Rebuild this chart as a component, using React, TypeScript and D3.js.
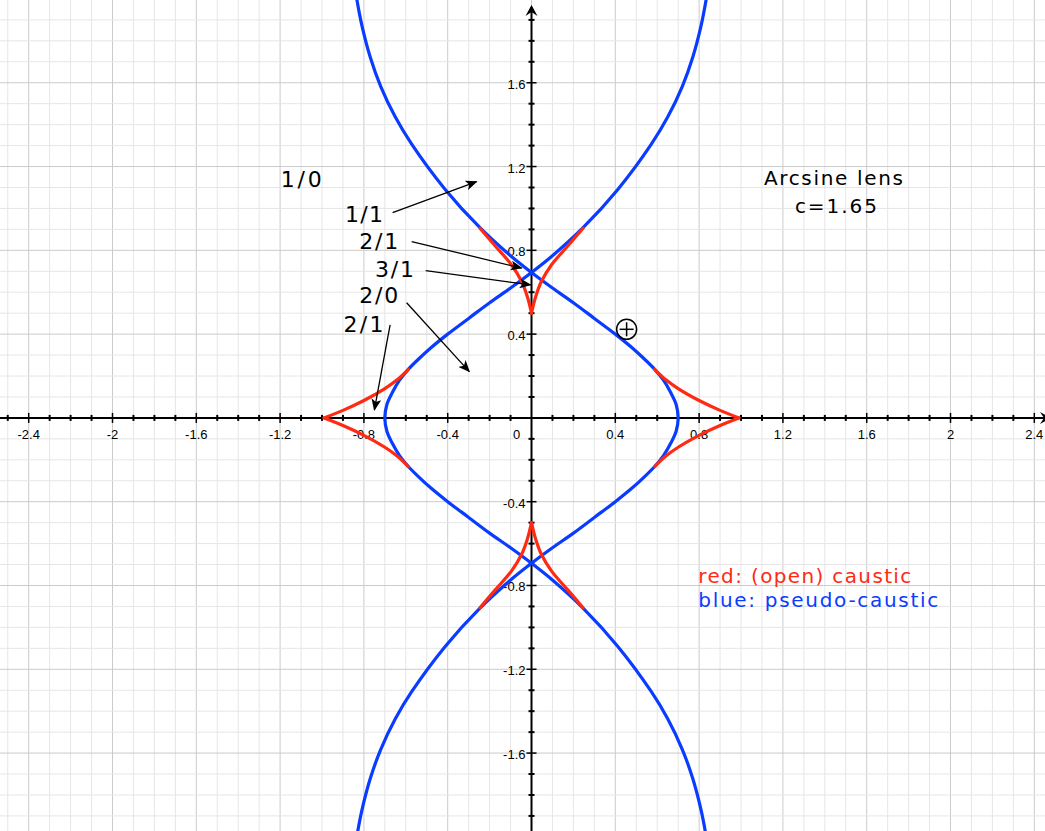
import * as d3 from "d3";
import { useEffect, useRef } from "react";

const W = 1045;
const H = 831;

// blue pseudo-caustic, the branch that bulges to the left (top-right -> bottom-right)
const blueLeft: [number, number][] = [
  [0.85, 2.1], [0.835, 2.005], [0.81, 1.875], [0.77, 1.723], [0.72, 1.583], [0.65, 1.436],
  [0.572, 1.307], [0.413, 1.092], [0.246, 0.908], [0.1, 0.774], [0, 0.694],
  [-0.1, 0.62], [-0.2, 0.55], [-0.3, 0.475], [-0.4, 0.4], [-0.48, 0.335],
  [-0.54, 0.28], [-0.588, 0.232], [-0.63, 0.18], [-0.665, 0.12], [-0.69, 0.065],
  [-0.7, 0], [-0.69, -0.065], [-0.665, -0.12], [-0.63, -0.18], [-0.588, -0.232],
  [-0.54, -0.28], [-0.48, -0.335], [-0.4, -0.4], [-0.3, -0.475], [-0.2, -0.55],
  [-0.1, -0.62], [0, -0.694], [0.1, -0.774], [0.246, -0.908], [0.413, -1.092],
  [0.572, -1.307], [0.65, -1.436], [0.72, -1.583], [0.77, -1.723], [0.81, -1.875],
  [0.835, -2.005], [0.85, -2.1],
];

// blue pseudo-caustic, the branch that bulges to the right (top-left -> bottom-left)
const blueRight: [number, number][] = [
  [-0.85, 2.1], [-0.835, 2.005], [-0.81, 1.875], [-0.77, 1.723], [-0.72, 1.583], [-0.65, 1.436],
  [-0.572, 1.307], [-0.413, 1.092], [-0.246, 0.908], [-0.1, 0.774], [0, 0.694],
  [0.1, 0.62], [0.2, 0.55], [0.3, 0.475], [0.4, 0.4], [0.48, 0.335],
  [0.54, 0.28], [0.588, 0.232], [0.63, 0.18], [0.665, 0.12], [0.69, 0.065],
  [0.7, 0], [0.69, -0.065], [0.665, -0.12], [0.63, -0.18], [0.588, -0.232],
  [0.54, -0.28], [0.48, -0.335], [0.4, -0.4], [0.3, -0.475], [0.2, -0.55],
  [0.1, -0.62], [0, -0.694], [-0.1, -0.774], [-0.246, -0.908], [-0.413, -1.092],
  [-0.572, -1.307], [-0.65, -1.436], [-0.72, -1.583], [-0.77, -1.723], [-0.81, -1.875],
  [-0.835, -2.005], [-0.85, -2.1],
];

// red caustic branches, each listed from its cusp outwards
const redTopL: [number, number][] = [
  [0, 0.5], [-0.02, 0.579], [-0.047, 0.651], [-0.095, 0.73], [-0.174, 0.822], [-0.246, 0.906],
];
const redTopR: [number, number][] = [
  [0, 0.5], [0.02, 0.579], [0.047, 0.651], [0.095, 0.73], [0.174, 0.822], [0.246, 0.906],
];
const redBotL: [number, number][] = [
  [0, -0.5], [-0.02, -0.579], [-0.047, -0.651], [-0.095, -0.73], [-0.174, -0.822], [-0.246, -0.906],
];
const redBotR: [number, number][] = [
  [0, -0.5], [0.02, -0.579], [0.047, -0.651], [0.095, -0.73], [0.174, -0.822], [0.246, -0.906],
];
const redLeftU: [number, number][] = [
  [-0.99, 0], [-0.9, 0.036], [-0.8, 0.083], [-0.7, 0.14], [-0.64, 0.183], [-0.588, 0.232],
];
const redLeftD: [number, number][] = [
  [-0.99, 0], [-0.9, -0.036], [-0.8, -0.083], [-0.7, -0.14], [-0.64, -0.183], [-0.588, -0.232],
];
const redRightU: [number, number][] = [
  [0.99, 0], [0.9, 0.036], [0.8, 0.083], [0.7, 0.14], [0.64, 0.183], [0.588, 0.232],
];
const redRightD: [number, number][] = [
  [0.99, 0], [0.9, -0.036], [0.8, -0.083], [0.7, -0.14], [0.64, -0.183], [0.588, -0.232],
];

const xTickLabels = [-2.4, -2, -1.6, -1.2, -0.8, -0.4, 0, 0.4, 0.8, 1.2, 1.6, 2, 2.4];
const yTickLabels = [-1.6, -1.2, -0.8, -0.4, 0.4, 0.8, 1.2, 1.6];

// region labels: text, x, y, width
const regionLabels: [string, number, number, number][] = [
  ["1/0", -1.197, 1.104, 41],
  ["1/1", -0.89, 0.937, 38],
  ["2/1", -0.822, 0.807, 39],
  ["3/1", -0.747, 0.674, 39],
  ["2/0", -0.822, 0.547, 39],
  ["2/1", -0.898, 0.412, 40],
];
// arrows: x1, y1, x2, y2
const arrows: [number, number, number, number][] = [
  [-0.663, 0.98, -0.262, 1.128],
  [-0.572, 0.842, -0.047, 0.715],
  [-0.505, 0.703, -0.004, 0.635],
  [-0.596, 0.55, -0.297, 0.221],
  [-0.675, 0.444, -0.75, 0.038],
];

const RED = "#ff2a12";
const BLUE = "#0a3cff";

export default function App() {
  const svgRef = useRef<SVGSVGElement>(null);

  useEffect(() => {
    document.body.style.margin = "0";
    const svg = d3.select(svgRef.current);
    svg.selectAll("*").remove();

    const x = d3.scaleLinear().domain([-2.537, 2.451]).range([0, W]);
    const y = d3.scaleLinear().domain([-1.972, 1.995]).range([H, 0]);

    svg.append("rect").attr("width", W).attr("height", H).attr("fill", "#fff");

    // grid
    const grid = svg.append("g");
    const xs = d3.range(-25, 25).map((i) => i / 10);
    const ys = d3.range(-19, 20).map((i) => i / 10);
    const isMajor = (v: number) => Math.abs(Math.round(v * 10) % 4) === 0;
    grid
      .selectAll(".gx")
      .data(xs)
      .join("line")
      .attr("x1", (d) => x(d))
      .attr("x2", (d) => x(d))
      .attr("y1", 0)
      .attr("y2", H)
      .attr("stroke", (d) => (isMajor(d) ? "#cbcbcb" : "#e6e6e6"))
      .attr("stroke-width", 1);
    grid
      .selectAll(".gy")
      .data(ys)
      .join("line")
      .attr("y1", (d) => y(d))
      .attr("y2", (d) => y(d))
      .attr("x1", 0)
      .attr("x2", W)
      .attr("stroke", (d) => (isMajor(d) ? "#cbcbcb" : "#e6e6e6"))
      .attr("stroke-width", 1);

    // axes
    const ax = svg.append("g").attr("stroke", "#000");
    ax.append("line").attr("x1", 0).attr("x2", W + 4).attr("y1", y(0)).attr("y2", y(0)).attr("stroke-width", 2);
    ax.append("line").attr("x1", x(0)).attr("x2", x(0)).attr("y1", 7).attr("y2", H).attr("stroke-width", 2);
    ax.selectAll(".tx")
      .data(xs.filter((d) => Math.abs(d) > 1e-6))
      .join("line")
      .attr("x1", (d) => x(d))
      .attr("x2", (d) => x(d))
      .attr("y1", (d) => y(0) - (isMajor(d) ? 5 : 3))
      .attr("y2", (d) => y(0) + (isMajor(d) ? 5 : 3))
      .attr("stroke-width", (d) => (isMajor(d) ? 1.5 : 2));
    ax.selectAll(".ty")
      .data(ys.filter((d) => Math.abs(d) > 1e-6))
      .join("line")
      .attr("y1", (d) => y(d))
      .attr("y2", (d) => y(d))
      .attr("x1", (d) => x(0) - (isMajor(d) ? 5 : 3))
      .attr("x2", (d) => x(0) + (isMajor(d) ? 5 : 3))
      .attr("stroke-width", (d) => (isMajor(d) ? 1.5 : 2));
    // arrow heads
    svg
      .append("path")
      .attr("d", `M${x(0)},5 L${x(0) + 6},16 L${x(0)},12 L${x(0) - 6},16 Z`)
      .attr("fill", "#000");
    svg
      .append("path")
      .attr("d", `M${W + 6},${y(0)} L${W - 5},${y(0) - 6} L${W - 1},${y(0)} L${W - 5},${y(0) + 6} Z`)
      .attr("fill", "#000");

    const tickFont = "'Liberation Sans', Arial, sans-serif";
    svg
      .append("g")
      .selectAll("text")
      .data(xTickLabels)
      .join("text")
      .attr("x", (d) => (d === 0 ? x(0) - 15 : x(d)))
      .attr("y", y(0) + 21)
      .attr("text-anchor", "middle")
      .attr("font-family", tickFont)
      .attr("font-size", 13)
      .text((d) => String(d));
    svg
      .append("g")
      .selectAll("text")
      .data(yTickLabels)
      .join("text")
      .attr("x", x(0) - 6)
      .attr("y", (d) => y(d) + 6)
      .attr("text-anchor", "end")
      .attr("font-family", tickFont)
      .attr("font-size", 13)
      .text((d) => String(d));

    // curves
    const line = d3
      .line<[number, number]>()
      .x((d) => x(d[0]))
      .y((d) => y(d[1]))
      .curve(d3.curveCatmullRom.alpha(0.5));

    const curves = svg.append("g").attr("fill", "none").attr("stroke-width", 3.2).attr("stroke-linecap", "round");
    [blueLeft, blueRight].forEach((c) => curves.append("path").attr("d", line(c)).attr("stroke", BLUE));
    [redTopL, redTopR, redBotL, redBotR, redLeftU, redLeftD, redRightU, redRightD].forEach((c) =>
      curves.append("path").attr("d", line(c)).attr("stroke", RED)
    );

    // annotations
    const labelFont = "'DejaVu Sans', Verdana, sans-serif";
    svg
      .append("defs")
      .append("marker")
      .attr("id", "head")
      .attr("viewBox", "0 0 12 10")
      .attr("refX", 11)
      .attr("refY", 5)
      .attr("markerWidth", 12)
      .attr("markerHeight", 10)
      .attr("markerUnits", "userSpaceOnUse")
      .attr("orient", "auto")
      .append("path")
      .attr("d", "M0,0 L12,5 L0,10 L3,5 Z")
      .attr("fill", "#000");

    svg
      .append("g")
      .selectAll("line")
      .data(arrows)
      .join("line")
      .attr("x1", (d) => x(d[0]))
      .attr("y1", (d) => y(d[1]))
      .attr("x2", (d) => x(d[2]))
      .attr("y2", (d) => y(d[3]))
      .attr("stroke", "#000")
      .attr("stroke-width", 1.3)
      .attr("marker-end", "url(#head)");

    svg
      .append("g")
      .selectAll("text")
      .data(regionLabels)
      .join("text")
      .attr("x", (d) => x(d[1]))
      .attr("y", (d) => y(d[2]))
      .attr("textLength", (d) => d[3])
      .attr("lengthAdjust", "spacing")
      .attr("font-family", labelFont)
      .attr("font-size", 22)
      .text((d) => d[0]);

    const title = svg.append("g").attr("font-family", labelFont).attr("font-size", 20).attr("text-anchor", "middle");
    title.append("text").attr("x", x(1.441)).attr("y", y(1.112)).attr("textLength", 139).attr("lengthAdjust", "spacing").text("Arcsine lens");
    title.append("text").attr("x", x(1.453)).attr("y", y(0.977)).attr("textLength", 82).attr("lengthAdjust", "spacing").text("c=1.65");

    const legend = svg.append("g").attr("font-family", labelFont).attr("font-size", 20);
    legend.append("text").attr("x", x(0.796)).attr("y", y(-0.789)).attr("fill", RED).attr("textLength", 213).attr("lengthAdjust", "spacing").text("red: (open) caustic");
    legend.append("text").attr("x", x(0.796)).attr("y", y(-0.901)).attr("fill", BLUE).attr("textLength", 240).attr("lengthAdjust", "spacing").text("blue: pseudo-caustic");

    // circled plus
    const cp = svg.append("g").attr("stroke", "#000").attr("stroke-width", 1.5).attr("fill", "none");
    cp.append("circle").attr("cx", x(0.454)).attr("cy", y(0.423)).attr("r", 10);
    cp.append("line").attr("x1", x(0.454) - 7).attr("x2", x(0.454) + 7).attr("y1", y(0.423)).attr("y2", y(0.423));
    cp.append("line").attr("x1", x(0.454)).attr("x2", x(0.454)).attr("y1", y(0.423) - 7).attr("y2", y(0.423) + 7);
  }, []);

  return <svg ref={svgRef} width={W} height={H} style={{ display: "block" }} />;
}
